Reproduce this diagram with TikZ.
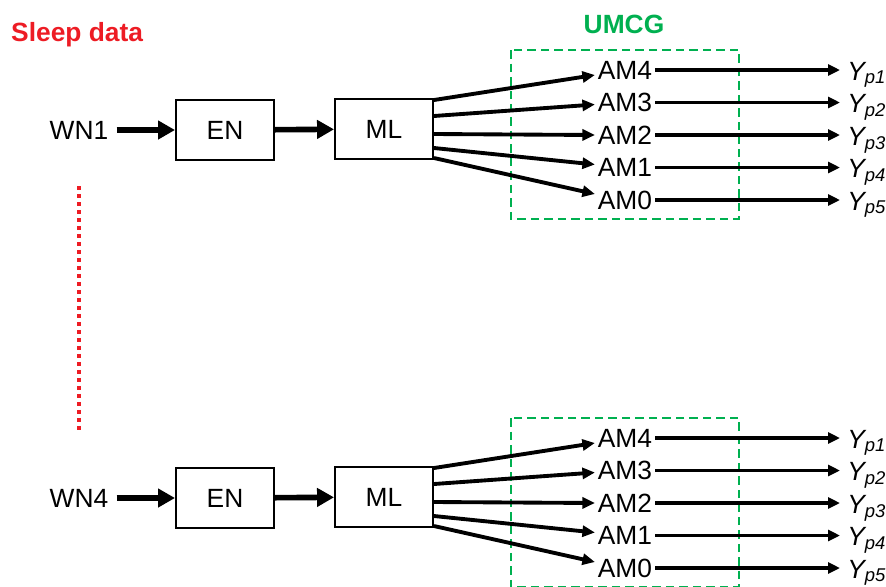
\documentclass[tikz,border=0pt]{standalone}
\usepackage{fontspec}
\setmainfont{Liberation Sans}
\usetikzlibrary{arrows.meta,calc}
\definecolor{sleepred}{RGB}{237,28,36}
\definecolor{umcggreen}{RGB}{0,176,80}

\begin{document}
\begin{tikzpicture}[x=0.02cm, y=-0.02cm,
  font=\fontsize{15}{18}\selectfont,
  block/.style={draw, line width=1.4pt, minimum width=1.95cm, minimum height=1.2cm},
  lbl/.style={inner sep=1.5pt},
  fat/.style={line width=3.2pt, -{Triangle[length=0.34cm,width=0.36cm]}},
  fan/.style={line width=2.2pt, -{Triangle[length=0.25cm,width=0.22cm]}},
  outarr/.style={line width=2pt, -{Triangle[length=0.24cm,width=0.22cm]}},
  umcgbox/.style={umcggreen, line width=1.4pt, dash pattern=on 0.17cm off 0.1cm},
  title/.style={font=\fontsize{15}{18}\selectfont\bfseries}]
  \useasboundingbox (0,0) rectangle (886,586);

  % headings
  \node[title, text=sleepred, anchor=west] (sleep) at (5,35) {Sleep data};
  \node[title, text=umcggreen] (umcg) at (624,24) {UMCG};

  % one chain per night
  \foreach \g/\off in {1/0, 4/368} {
    \node[lbl] (wn\g) at (79,130+\off) {WN\g};
    \node[block] (en\g) at (225,130+\off) {EN};
    \node[block] (ml\g) at (384,129+\off) {ML};
    \draw[fat, shorten <=3pt] (wn\g) -- (en\g);
    \draw[fat] (en\g) -- (ml\g);
    \draw[umcgbox] (511,50+\off) rectangle (739,219+\off);
    \foreach \i/\k/\s/\t in {4/1/-29/5, 3/2/-13/2, 2/3/5/0, 1/4/19/-3, 0/5/29/-6} {
      \node[lbl] (am\g\i) at (625,{70+32.5*(\k-1)+\off}) {AM\i};
      \node[inner ysep=1.5pt, inner xsep=0.14cm, anchor=base west] (yp\g\i)
        at (840,{80+32.5*(\k-1)+\off}) {\textit{Y\textsubscript{p\k}}};
      \draw[fan] ($(ml\g.east)+(0,\s)$) -- ($(am\g\i.west)+(0,\t)$);
      \draw[outarr] (am\g\i.east) -- (am\g\i.east -| yp\g\i.west);
    }
  }

  % dots between the nights
  \draw[sleepred, line width=0.08cm, dash pattern=on 0.08cm off 0.08cm]
    ($(wn1)+(0,56)$) -- ($(wn4)+(0,-68)$);
\end{tikzpicture}
\end{document}
